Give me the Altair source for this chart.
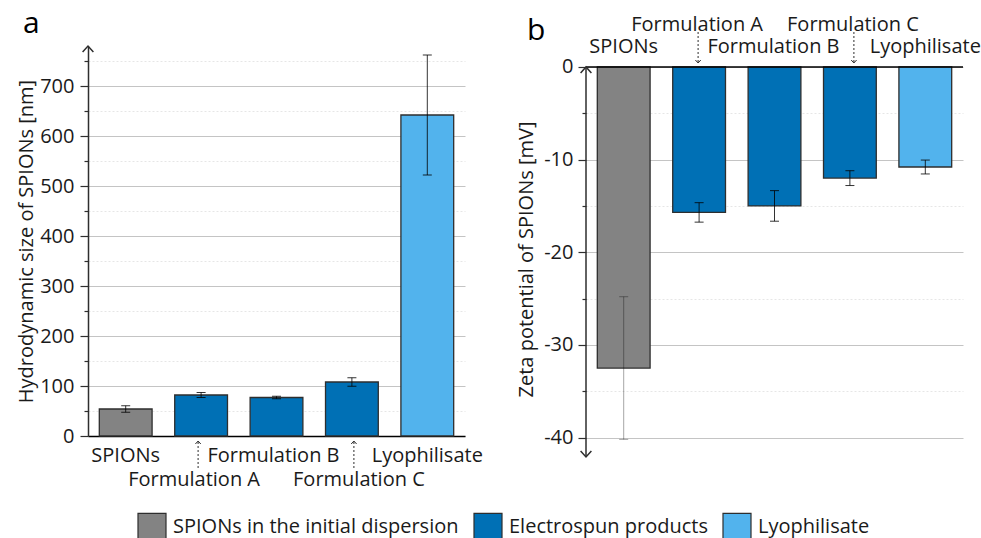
import altair as alt
import pandas as pd

# ---------------- data ----------------
categories = ["SPIONs", "Formulation A", "Formulation B", "Formulation C", "Lyophilisate"]
groups = ["SPIONs in the initial dispersion", "Electrospun products", "Electrospun products",
          "Electrospun products", "Lyophilisate"]
size_nm = [54, 82, 77, 108, 642]
size_sd = [6.5, 5, 2.5, 8.5, 120]
zeta_mv = [-32.5, -15.7, -15.0, -12.0, -10.8]
zeta_sd = [7.7, 1.05, 1.65, 0.8, 0.75]
group_order = ["SPIONs in the initial dispersion", "Electrospun products", "Lyophilisate"]
group_colors = ["#838383", "#0070B5", "#52B3ED"]
size_ticks = list(range(0, 751, 50))
zeta_ticks = list(range(-40, 1, 5))

FONT = "Open Sans"
TXT = "#1a1a1a"
AX = "#2e2e2e"

df_a = pd.DataFrame({"cat": categories, "group": groups, "value": size_nm, "sd": size_sd})
df_b = pd.DataFrame({"cat": categories, "group": groups, "value": zeta_mv, "sd": zeta_sd})
one = pd.DataFrame({"k": [0]})

legend = alt.Legend(title=None, orient="none", legendX=49, legendY=466, direction="horizontal",
                    symbolType="square", symbolSize=784, symbolStrokeColor=AX, symbolStrokeWidth=1.2,
                    symbolOpacity=1, labelFont=FONT, labelFontSize=20, labelColor=TXT, labelOffset=6,
                    columnPadding=12, padding=0, labelLimit=400)
color = alt.Color("group:N", scale=alt.Scale(domain=group_order, range=group_colors), legend=legend)

UP = "M-0.9,1L0,0L0.9,1"
DOWN = "M-0.9,-1L0,0L0.9,-1"


def build_panel(df, yscale, yaxis, xaxis, labels, label_arrows, arrow_y, arrow_tip, arrow_shape,
                letter, letter_xy, err_opacity):
    def xenc():
        return alt.X("cat:N", sort=categories,
                     scale=alt.Scale(domain=categories, paddingInner=0.3, paddingOuter=0.15),
                     axis=xaxis)

    def yenc(field):
        return alt.Y(field, scale=yscale, axis=yaxis)

    bars = alt.Chart(df).mark_bar(stroke=AX, strokeWidth=1.3).encode(
        x=xenc(), y=yenc("value:Q"), color=color)
    eb = alt.Chart(df).transform_calculate(lo="datum.value - datum.sd", hi="datum.value + datum.sd")
    err = eb.mark_rule(color="#000000", strokeWidth=1).encode(
        x=xenc(), y=yenc("lo:Q"), y2="hi:Q", opacity=err_opacity)
    cap_lo = eb.mark_tick(color="#000000", size=9, thickness=1, orient="horizontal").encode(
        x=xenc(), y=yenc("lo:Q"), opacity=err_opacity)
    cap_hi = eb.mark_tick(color="#000000", size=9, thickness=1, orient="horizontal").encode(
        x=xenc(), y=yenc("hi:Q"), opacity=err_opacity)
    layers = [bars, err, cap_lo, cap_hi]
    for name, dx, yb in labels:
        layers.append(
            alt.Chart(df).transform_filter(alt.datum.cat == name).mark_text(
                font=FONT, fontSize=20, color=TXT, align="center", baseline="alphabetic", dx=dx
            ).encode(x=xenc(), y=alt.value(yb), text="cat:N")
        )
    for name, off in label_arrows:
        layers.append(
            alt.Chart(df).transform_filter(alt.datum.cat == name).mark_rule(
                color=AX, strokeWidth=1, strokeDash=[2, 2], xOffset=off
            ).encode(x=xenc(), y=alt.value(arrow_y[0]), y2=alt.value(arrow_y[1]))
        )
        layers.append(
            alt.Chart(df).transform_filter(alt.datum.cat == name).mark_point(
                shape=arrow_shape, size=36, filled=False, stroke=AX, strokeWidth=1, opacity=1, xOffset=off
            ).encode(x=xenc(), y=alt.value(arrow_tip))
        )
    layers.append(
        alt.Chart(one).mark_text(font=FONT, fontSize=30, color="#000000", align="left",
                                 baseline="alphabetic", text=letter).encode(
            x=alt.value(letter_xy[0]), y=alt.value(letter_xy[1]))
    )
    return layers


def ydatum(v, yscale, yaxis):
    return alt.Y(datum=v, type="quantitative", scale=yscale, axis=yaxis)


# ---------------- panel a ----------------
ys_a = alt.Scale(domain=[0, 780], nice=False, zero=False)
major_a = "datum.value % 100 == 0"
yaxis_a = alt.Axis(
    values=size_ticks,
    labelExpr="datum.value % 100 == 0 ? '' + datum.value : ''",
    title="Hydrodynamic size of SPIONs [nm]",
    titleFont=FONT, titleFontSize=20, titleFontWeight="normal", titleColor=TXT,
    titleAngle=270, titleX=-56, titleY=195, titleAlign="center", titleBaseline="alphabetic",
    labelFont=FONT, labelFontSize=20, labelColor=TXT, labelPadding=6,
    domainColor=AX, domainWidth=1.5,
    tickColor=AX, tickWidth=1.2,
    tickSize={"condition": {"test": major_a, "value": 8}, "value": 4},
    grid=True,
    gridColor={"condition": {"test": major_a, "value": "#c4c4c4"}, "value": "#e6e6e6"},
    gridDash={"condition": {"test": major_a, "value": []}, "value": [2, 2]},
    gridWidth=1,
)
xaxis_a = alt.Axis(labels=False, ticks=False, title=None, grid=False, domainColor="#000000",
                   domainWidth=1.5)
layers_a = build_panel(
    df_a, ys_a, yaxis_a, xaxis_a,
    labels=[("SPIONs", 0, 416), ("Formulation A", -7, 440), ("Formulation B", -3, 416),
            ("Formulation C", 7, 440), ("Lyophilisate", 0, 416)],
    label_arrows=[("Formulation A", -3), ("Formulation C", 2)],
    arrow_y=(396, 424), arrow_tip=395, arrow_shape=UP,
    letter="a", letter_xy=(-65, -13), err_opacity=alt.value(0.8),
)
arrow_a = alt.Chart(one).mark_point(shape=UP, size=144, filled=False, stroke=AX, strokeWidth=1.5,
                                    opacity=1).encode(
    x=alt.value(0), y=ydatum(780, ys_a, yaxis_a))
chart_a = alt.layer(*layers_a, arrow_a).properties(width=377, height=390)

# ---------------- panel b ----------------
ys_b = alt.Scale(domain=[-42.1, 2.26], nice=False, zero=False)
major_b = "datum.value % 10 == 0"
yaxis_b = alt.Axis(
    values=zeta_ticks,
    labelExpr="datum.value % 10 == 0 ? '' + datum.value : ''",
    title="Zeta potential of SPIONs [mV]",
    titleFont=FONT, titleFontSize=20, titleFontWeight="normal", titleColor=TXT,
    titleAngle=270, titleX=-54, titleY=213, titleAlign="center", titleBaseline="alphabetic",
    labelFont=FONT, labelFontSize=20, labelColor=TXT, labelPadding=5,
    domain=False,
    tickColor=AX, tickWidth=1.2,
    tickSize={"condition": {"test": major_b, "value": 8}, "value": 4},
    grid=True,
    gridColor={"condition": {"test": major_b, "value": "#c4c4c4"}, "value": "#e6e6e6"},
    gridDash={"condition": {"test": major_b, "value": []}, "value": [2, 2]},
    gridWidth=1,
)
layers_b = build_panel(
    df_b, ys_b, yaxis_b, None,
    labels=[("SPIONs", 0, 7), ("Formulation A", -2, -15), ("Formulation B", -1, 7),
            ("Formulation C", 3, -15), ("Lyophilisate", 0, 7)],
    label_arrows=[("Formulation A", -1), ("Formulation C", 4)],
    arrow_y=(-14, 16), arrow_tip=17, arrow_shape=DOWN,
    letter="b", letter_xy=(-59, -6),
    err_opacity=alt.condition(alt.datum.cat == "SPIONs", alt.value(0.35), alt.value(0.8)),
)
zero_line = alt.Chart(one).mark_rule(color="#000000", strokeWidth=1.5).encode(
    y=ydatum(0, ys_b, yaxis_b))
yline_b = alt.Chart(one).mark_rule(color=AX, strokeWidth=1.5).encode(
    x=alt.value(0), y=ydatum(-42.1, ys_b, yaxis_b), y2=alt.Y2(datum=0))
arrow_b_top = alt.Chart(one).mark_point(shape=UP, size=144, filled=False, stroke=AX, strokeWidth=1.5,
                                        opacity=1).encode(
    x=alt.value(0), y=ydatum(0, ys_b, yaxis_b))
arrow_b_bot = alt.Chart(one).mark_point(shape=DOWN, size=144, filled=False, stroke=AX, strokeWidth=1.5,
                                        opacity=1).encode(
    x=alt.value(0), y=ydatum(-42.1, ys_b, yaxis_b))
chart_b = alt.layer(*layers_b, zero_line, yline_b, arrow_b_top, arrow_b_bot).properties(
    width=377, height=411)

chart = alt.hconcat(chart_a, chart_b, spacing=121, bounds="flush").properties(
    autosize=alt.AutoSizeParams(type="none"),
    padding={"left": 88, "top": 46, "right": 893, "bottom": 492},
    background="white",
).configure_view(stroke=None)

chart.save("out.html", embed_options={"renderer": "svg", "actions": False})
